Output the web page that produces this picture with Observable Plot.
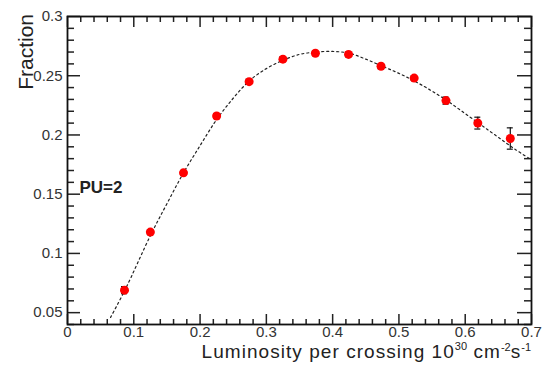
<!DOCTYPE html>
<html>
<head>
<meta charset="utf-8">
<script src="https://cdn.jsdelivr.net/npm/d3@7"></script>
<script src="https://cdn.jsdelivr.net/npm/@observablehq/plot@0.6"></script>
<style>
  html, body { margin: 0; padding: 0; background: #fff; }
  #chart svg { display: block; }
</style>
</head>
<body>
<div id="chart"></div>
<script>
// Data points (luminosity per crossing, fraction, error)
const lumi = [0.086, 0.125, 0.175, 0.225, 0.274, 0.325, 0.374, 0.424, 0.473, 0.523, 0.571, 0.619, 0.668];
const frac = [0.069, 0.118, 0.168, 0.216, 0.245, 0.264, 0.269, 0.268, 0.258, 0.248, 0.229, 0.210, 0.197];
const err  = [0.003, 0.002, 0.002, 0.002, 0.002, 0.002, 0.002, 0.002, 0.002, 0.002, 0.003, 0.005, 0.009];

// Fitted curve
const curveX = [0.065, 0.0875, 0.125, 0.15, 0.175, 0.2, 0.225, 0.25, 0.275, 0.3, 0.325, 0.35, 0.375, 0.4, 0.425, 0.45, 0.475, 0.5, 0.525, 0.55, 0.575, 0.6, 0.625, 0.65, 0.675, 0.7];
const curveY = [0.046, 0.070, 0.115, 0.142, 0.168, 0.191, 0.213, 0.231, 0.246, 0.256, 0.263, 0.268, 0.270, 0.2705, 0.269, 0.264, 0.258, 0.252, 0.245, 0.237, 0.228, 0.218, 0.208, 0.198, 0.188, 0.179];

const xMajor = [0, 0.1, 0.2, 0.3, 0.4, 0.5, 0.6, 0.7];
const xMinor = d3.range(0, 36).map(i => +(i * 0.02).toFixed(2)).filter(v => Math.abs(v * 10 - Math.round(v * 10)) > 1e-6);
const yMajor = [0.05, 0.1, 0.15, 0.2, 0.25, 0.3];
const yMinor = d3.range(4, 31).map(i => +(i * 0.01).toFixed(2)).filter(v => Math.abs(v * 20 - Math.round(v * 20)) > 1e-6);

const W = 542, H = 367, mL = 67, mR = 11, mT = 16, mB = 43;
const xDom = [0, 0.7], yDom = [0.04, 0.3];
const xPerPx = (xDom[1] - xDom[0]) / (W - mL - mR);
const yPerPx = (yDom[1] - yDom[0]) / (H - mT - mB);

const pts = lumi.map((x, i) => ({x, y: frac[i], e: err[i]}));
const curve = curveX.map((x, i) => ({x, y: curveY[i]}));
const tc = "#222";
const FONT = "'Liberation Sans', Arial, sans-serif";

const plot = Plot.plot({
  width: W, height: H,
  marginLeft: mL, marginRight: mR, marginTop: mT, marginBottom: mB,
  style: {fontFamily: FONT, background: "#fff"},
  x: {domain: xDom},
  y: {domain: yDom},
  marks: [
    // ticks (inward)
    Plot.ruleX(xMajor, {x: d => d, y1: yDom[0], y2: yDom[0] + 10 * yPerPx, stroke: tc, strokeWidth: 1.5}),
    Plot.ruleX(xMinor, {x: d => d, y1: yDom[0], y2: yDom[0] + 5 * yPerPx, stroke: tc, strokeWidth: 1.5}),
    Plot.ruleX(xMajor, {x: d => d, y1: yDom[1], y2: yDom[1] - 11 * yPerPx, stroke: tc, strokeWidth: 1.5}),
    Plot.ruleX(xMinor, {x: d => d, y1: yDom[1], y2: yDom[1] - 6 * yPerPx, stroke: tc, strokeWidth: 1.5}),
    Plot.ruleY(yMajor, {y: d => d, x1: xDom[0], x2: xDom[0] + 13 * xPerPx, stroke: tc, strokeWidth: 1.5}),
    Plot.ruleY(yMinor, {y: d => d, x1: xDom[0], x2: xDom[0] + 7 * xPerPx, stroke: tc, strokeWidth: 1.5}),
    Plot.ruleY(yMajor, {y: d => d, x1: xDom[1], x2: xDom[1] - 14 * xPerPx, stroke: tc, strokeWidth: 1.5}),
    Plot.ruleY(yMinor, {y: d => d, x1: xDom[1], x2: xDom[1] - 7 * xPerPx, stroke: tc, strokeWidth: 1.5}),
    Plot.frame({stroke: "#111", strokeWidth: 1.8}),
    Plot.axisX({ticks: xMajor, tickSize: 0, tickPadding: 2, tickFormat: d => String(+d.toFixed(1)), fontSize: 15, fill: "#333", label: null}),
    Plot.axisY({ticks: yMajor, tickSize: 0, tickPadding: 5, tickFormat: d => String(+d.toFixed(2)), fontSize: 15, fill: "#333", label: null}),
    // fit curve
    Plot.line(curve, {x: "x", y: "y", stroke: "#222", strokeWidth: 1.2, strokeDasharray: "2,3", curve: "catmull-rom"}),
    // error bars
    Plot.ruleX(pts, {x: "x", y1: d => d.y - d.e, y2: d => d.y + d.e, stroke: "#111", strokeWidth: 1.2}),
    Plot.ruleY(pts, {y: d => d.y - d.e, x1: d => d.x - 3 * xPerPx, x2: d => d.x + 3 * xPerPx, stroke: "#111", strokeWidth: 1.2}),
    Plot.ruleY(pts, {y: d => d.y + d.e, x1: d => d.x - 3 * xPerPx, x2: d => d.x + 3 * xPerPx, stroke: "#111", strokeWidth: 1.2}),
    // markers
    Plot.dot(pts, {x: "x", y: "y", r: 4.5, fill: "#ff0000", stroke: "none"}),
    // label
    Plot.text(["PU=2"], {x: xDom[0], y: 0.1555, dx: 12, text: d => d, textAnchor: "start", fontSize: 17, fontWeight: "bold", fill: "#222"})
  ]
});

const svg = d3.select(plot);
// y title
svg.append("text")
  .attr("transform", `translate(33,${mT - 2}) rotate(-90)`)
  .attr("text-anchor", "end")
  .attr("font-family", FONT)
  .attr("font-size", 21)
  .attr("fill", "#222")
  .text("Fraction");
// x title with superscripts
const t = svg.append("text")
  .attr("x", W - mR)
  .attr("y", 358)
  .attr("text-anchor", "end")
  .attr("font-family", FONT)
  .attr("font-size", 19)
  .attr("letter-spacing", 1.05)
  .attr("fill", "#222");
t.append("tspan").text("Luminosity per crossing 10");
t.append("tspan").attr("dy", -8).attr("font-size", 11).attr("letter-spacing", 0).text("30");
t.append("tspan").attr("dy", 8).text(" cm");
t.append("tspan").attr("dy", -7).attr("font-size", 11).attr("letter-spacing", 0).text("-2");
t.append("tspan").attr("dy", 7).text("s");
t.append("tspan").attr("dy", -7).attr("font-size", 11).attr("letter-spacing", 0).text("-1");

document.getElementById("chart").appendChild(plot);
</script>
</body>
</html>
